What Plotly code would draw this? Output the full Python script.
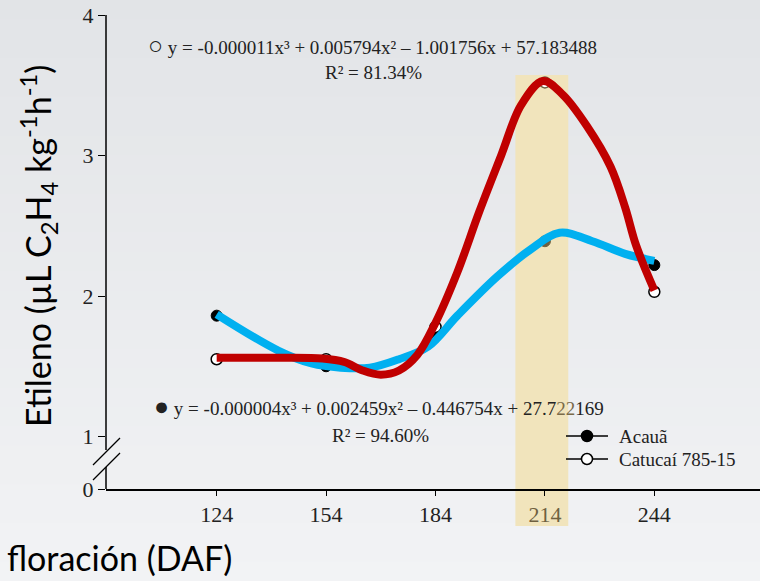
import plotly.graph_objects as go

# ---- data ----
daf = [124, 154, 184, 214, 244]
acaua = [1.86, 1.50, 1.72, 2.39, 2.22]
catucai = [1.55, 1.55, 1.78, 3.52, 2.03]

# hand-drawn highlight curves (control points)
blue_x = [124, 141, 150, 158, 166, 174, 182, 190, 201, 210, 218, 227, 236, 244]
blue_y = [1.87, 1.61, 1.52, 1.49, 1.49, 1.55, 1.64, 1.86, 2.14, 2.33, 2.45, 2.39, 2.30, 2.25]
red_x = [124, 140, 153, 159, 164, 169, 174, 179, 184, 190, 196, 202, 207.5, 213.5, 219, 225.5, 232, 236, 239, 244]
red_y = [1.56, 1.56, 1.555, 1.53, 1.47, 1.44, 1.47, 1.58, 1.81, 2.17, 2.60, 3.00, 3.36, 3.53, 3.43, 3.21, 2.92, 2.63, 2.36, 2.04]

x_ticks = [124, 154, 184, 214, 244]
y_ticks = [0, 1, 2, 3, 4]
band = [205.9, 220.4]
series_names = ["Acauã", "Catucaí 785-15"]

# ---- geometry ----
W, H = 760, 581
L, R, T, B = 106, 0, 15, 92
PW, PH = W - L - R, H - T - B
Y_TOP = 4.0
PX_PER_UNIT = 140.5
Y_BOT = Y_TOP - PH / PX_PER_UNIT  # displayed position of "0" (broken axis)


def ypos(v):
    return Y_BOT if v == 0 else v


def px_x(p):
    return (p - L) / PW


def px_y(p):
    return (H - B - p) / PH


SERIF = "Liberation Serif, Times New Roman, serif"
SANS = "Lato, Carlito, Open Sans, sans-serif"
TINT = "#6e6040"
TXT = "#222"

fig = go.Figure()

fig.add_trace(go.Scatter(
    x=daf, y=acaua, mode="markers", name=series_names[0], showlegend=False,
    marker=dict(size=11, color=[TINT if d == 214 else "black" for d in daf],
                line=dict(width=1, color=[TINT if d == 214 else "black" for d in daf]))))
fig.add_trace(go.Scatter(
    x=daf, y=catucai, mode="markers", name=series_names[1], showlegend=False,
    marker=dict(size=11, color="white",
                line=dict(width=1.5, color=[TINT if d == 214 else "black" for d in daf]))))

fig.add_trace(go.Scatter(x=blue_x, y=blue_y, mode="lines", showlegend=False,
                         line=dict(color="#00B0F0", width=8, shape="spline", smoothing=1.0)))
fig.add_trace(go.Scatter(x=red_x, y=red_y, mode="lines", showlegend=False,
                         line=dict(color="#C00000", width=8, shape="spline", smoothing=1.0)))

# soft vertical background gradient
shapes = []
N_STRIPS = 30
c_top, c_bot = (226, 228, 231), (242, 243, 245)
for k in range(N_STRIPS):
    f = (k + 0.5) / N_STRIPS
    col = tuple(round(a + (b - a) * f) for a, b in zip(c_top, c_bot))
    p0, p1 = H * k / N_STRIPS, H * (k + 1) / N_STRIPS + 1
    shapes.append(dict(type="rect", xref="paper", yref="paper", x0=px_x(0), x1=px_x(W),
                       y0=px_y(p1), y1=px_y(p0), fillcolor="rgb(%d,%d,%d)" % col,
                       line=dict(width=0), layer="below"))

shapes += [
    dict(type="rect", xref="x", yref="paper", x0=band[0], x1=band[1],
         y0=px_y(526), y1=px_y(75), fillcolor="#F1E4BC", line=dict(width=0), layer="below"),
    # y axis line with break
    dict(type="line", xref="paper", yref="paper", x0=0, x1=0, y0=px_y(15), y1=px_y(450),
         line=dict(color="black", width=1.5)),
    dict(type="line", xref="paper", yref="paper", x0=0, x1=0, y0=px_y(467), y1=px_y(489),
         line=dict(color="black", width=1.5)),
    dict(type="line", xref="paper", yref="paper", x0=px_x(93), x1=px_x(120),
         y0=px_y(465), y1=px_y(438), line=dict(color="black", width=1.2)),
    dict(type="line", xref="paper", yref="paper", x0=px_x(93), x1=px_x(120),
         y0=px_y(480), y1=px_y(453), line=dict(color="black", width=1.2)),
]

# legend (drawn by hand to match the reference layout)
leg_rows = [436, 459]
for i, (name, yy) in enumerate(zip(series_names, leg_rows)):
    shapes.append(dict(type="line", xref="paper", yref="paper", x0=px_x(566), x1=px_x(608),
                       y0=px_y(yy), y1=px_y(yy), line=dict(color="black", width=1.5)))
    shapes.append(dict(type="circle", xref="paper", yref="paper",
                       x0=px_x(581.5), x1=px_x(592.5), y0=px_y(yy + 5.5), y1=px_y(yy - 5.5),
                       fillcolor="black" if i == 0 else "white",
                       line=dict(color="black", width=1.5)))

annotations = [
    dict(text="<span style='font-size:25px'>○</span> y = -0.000011x³ + 0.005794x² – 1.001756x + 57.183488",
         xref="paper", yref="paper", x=px_x(146), y=px_y(46), xanchor="left", yanchor="middle",
         showarrow=False, font=dict(family=SERIF, size=19, color=TXT)),
    dict(text="R² = 81.34%", xref="paper", yref="paper", x=px_x(373), y=px_y(73),
         xanchor="center", yanchor="middle", showarrow=False,
         font=dict(family=SERIF, size=19, color=TXT)),
    dict(text="<span style='font-size:25px'>●</span> y = -0.000004x³ + 0.002459x² – 0.446754x + 27.7<span style='color:#7a6a48'>22</span>169",
         xref="paper", yref="paper", x=px_x(152), y=px_y(406), xanchor="left", yanchor="middle",
         showarrow=False, font=dict(family=SERIF, size=19, color=TXT)),
    dict(text="R² = 94.60%", xref="paper", yref="paper", x=px_x(380), y=px_y(435),
         xanchor="center", yanchor="middle", showarrow=False,
         font=dict(family=SERIF, size=19, color=TXT)),
    dict(text="Etileno (µL C<sub>2</sub>H<sub>4</sub> kg<sup>-1</sup>h<sup>-1</sup>)",
         xref="paper", yref="paper", x=px_x(38), y=px_y(246), xanchor="center", yanchor="middle",
         textangle=-90, showarrow=False, font=dict(family=SANS, size=34, color="black")),
    dict(text="floración (DAF)", xref="paper", yref="paper", x=px_x(5), y=px_y(557),
         xanchor="left", yanchor="middle", showarrow=False,
         font=dict(family=SANS, size=34, color="black")),
]
for name, yy in zip(series_names, leg_rows):
    annotations.append(dict(text=name, xref="paper", yref="paper", x=px_x(617), y=px_y(yy),
                            xanchor="left", yanchor="middle", showarrow=False,
                            font=dict(family=SERIF, size=19, color=TXT)))

fig.update_layout(
    width=W, height=H,
    margin=dict(l=L, r=R, t=T, b=B, pad=0),
    paper_bgcolor="#EAEBEE", plot_bgcolor="rgba(0,0,0,0)",
    showlegend=False,
    shapes=shapes, annotations=annotations,
    xaxis=dict(range=[93.65, 272.97], tickvals=x_ticks,
               ticktext=[f"<span style='color:{TINT}'>{t}</span>" if t == 214 else str(t) for t in x_ticks],
               showline=True, linecolor="black", linewidth=1.5,
               ticks="outside", ticklen=5, tickcolor="black", tickwidth=1.2,
               showgrid=False, zeroline=False,
               tickfont=dict(family=SERIF, size=22, color=TXT)),
    yaxis=dict(range=[Y_BOT, Y_TOP], tickvals=[ypos(v) for v in y_ticks],
               ticktext=[str(v) for v in y_ticks],
               showline=False, ticks="outside", ticklen=7, tickcolor="black", tickwidth=1.2,
               showgrid=False, zeroline=False,
               tickfont=dict(family=SERIF, size=22, color=TXT)),
)

fig.write_html("out.html")
